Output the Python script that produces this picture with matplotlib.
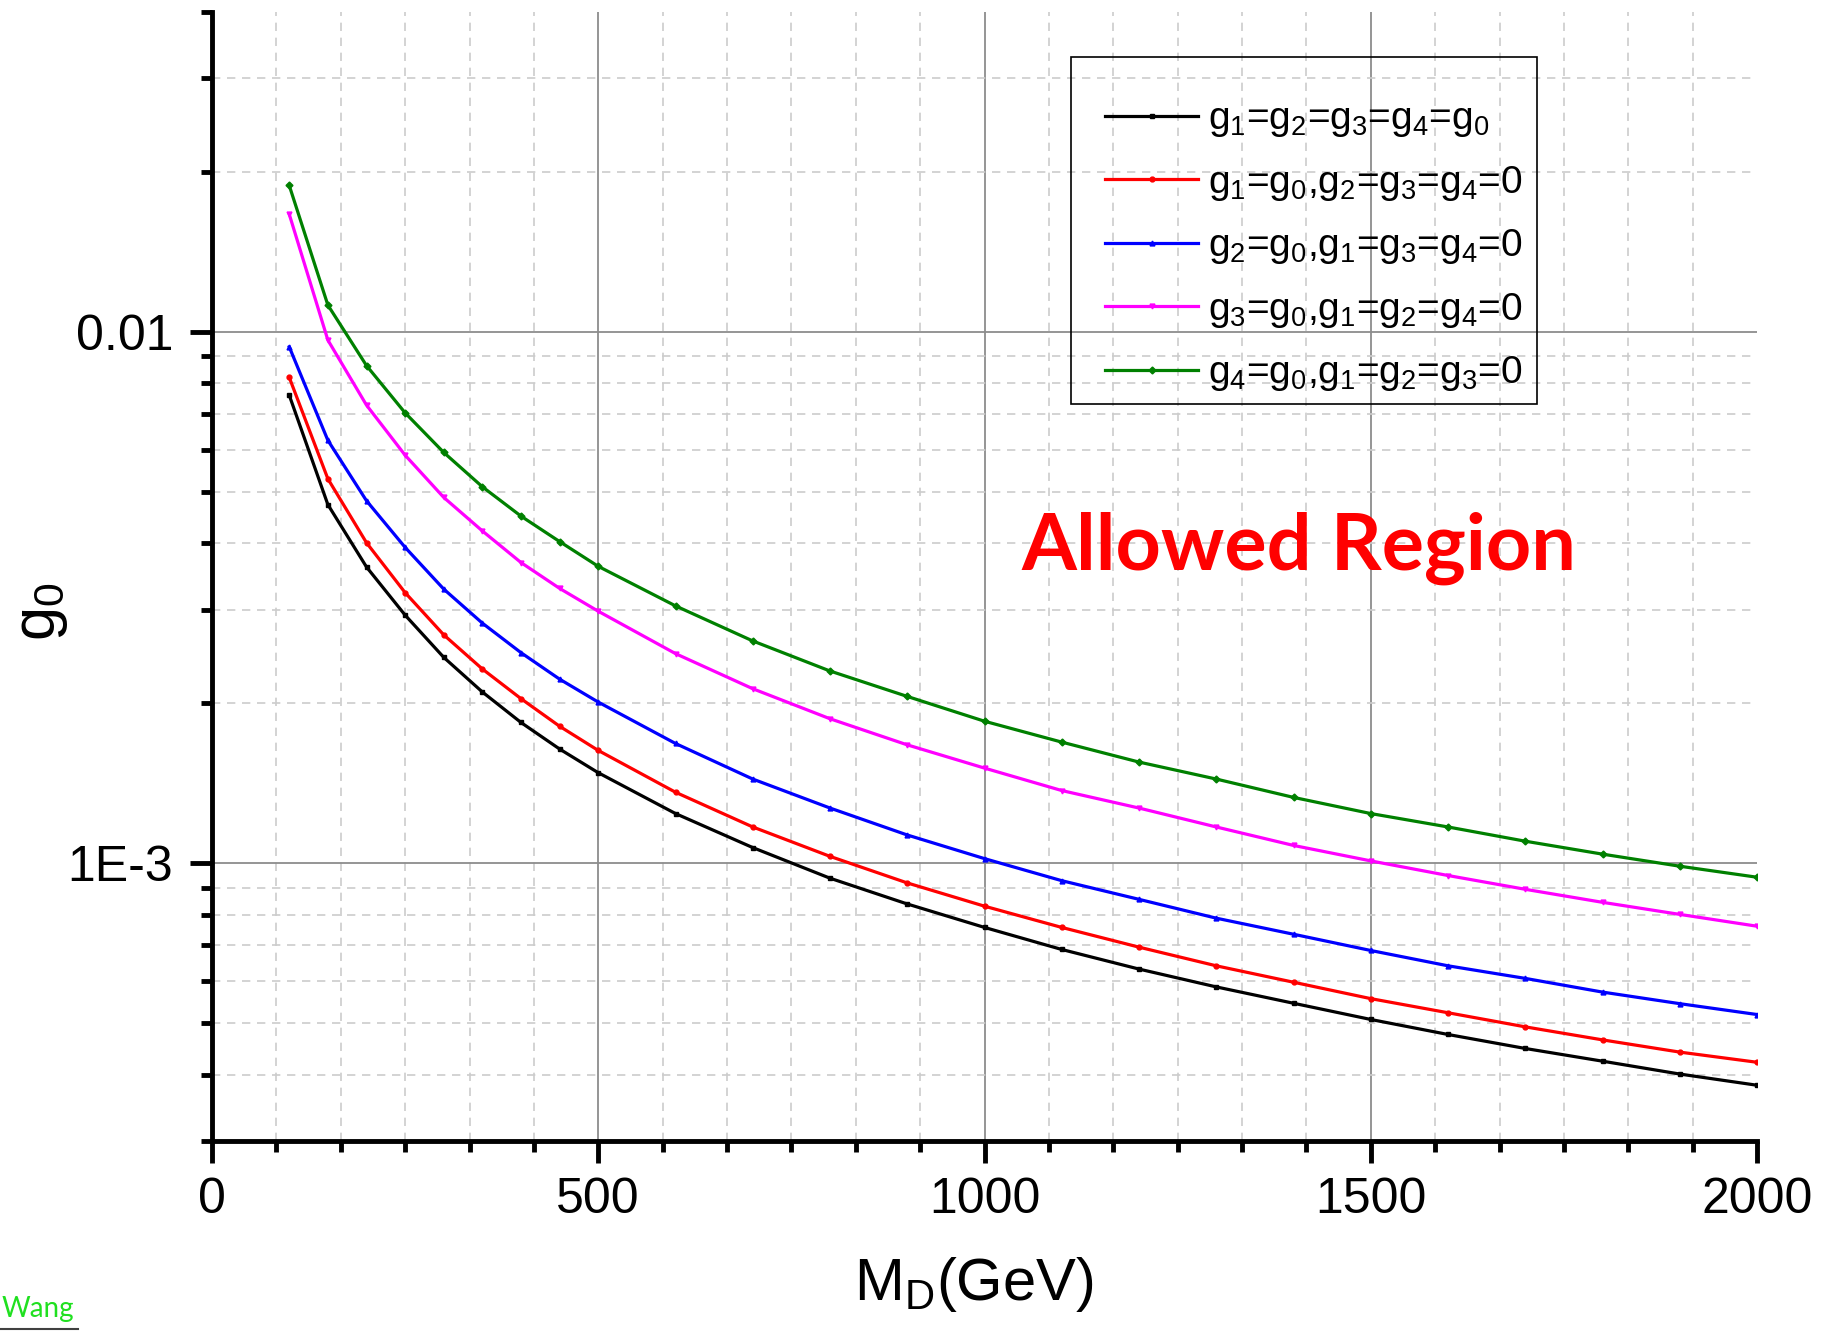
import matplotlib
matplotlib.use("Agg")
import matplotlib.pyplot as plt
from matplotlib.lines import Line2D
from matplotlib.patches import Rectangle

plt.rcParams['font.family'] = ['Liberation Sans', 'DejaVu Sans']
plt.rcParams['mathtext.default'] = 'regular'

# M_D values (GeV)
md = [100, 150, 200, 250, 300, 350, 400, 450, 500, 600, 700, 800, 900, 1000,
      1100, 1200, 1300, 1400, 1500, 1600, 1700, 1800, 1900, 2000]

# g0 limits for each coupling choice
g_all = [7.60e-3, 4.73e-3, 3.61e-3, 2.93e-3, 2.44e-3, 2.10e-3, 1.84e-3, 1.64e-3, 1.48e-3, 1.24e-3,
         1.07e-3, 9.37e-4, 8.38e-4, 7.57e-4, 6.88e-4, 6.32e-4, 5.85e-4, 5.45e-4, 5.08e-4, 4.76e-4,
         4.48e-4, 4.24e-4, 4.01e-4, 3.82e-4]
g_1 = [8.21e-3, 5.29e-3, 4.01e-3, 3.23e-3, 2.69e-3, 2.32e-3, 2.04e-3, 1.81e-3, 1.63e-3, 1.36e-3,
       1.17e-3, 1.03e-3, 9.18e-4, 8.30e-4, 7.57e-4, 6.95e-4, 6.41e-4, 5.97e-4, 5.56e-4, 5.23e-4,
       4.92e-4, 4.65e-4, 4.41e-4, 4.22e-4]
g_2 = [9.37e-3, 6.25e-3, 4.81e-3, 3.93e-3, 3.28e-3, 2.83e-3, 2.49e-3, 2.22e-3, 2.01e-3, 1.68e-3,
       1.44e-3, 1.27e-3, 1.13e-3, 1.02e-3, 9.27e-4, 8.55e-4, 7.88e-4, 7.35e-4, 6.85e-4, 6.41e-4,
       6.07e-4, 5.72e-4, 5.44e-4, 5.19e-4]
g_3 = [1.665e-2, 9.65e-3, 7.28e-3, 5.86e-3, 4.88e-3, 4.22e-3, 3.68e-3, 3.29e-3, 2.98e-3, 2.48e-3,
       2.13e-3, 1.87e-3, 1.67e-3, 1.51e-3, 1.37e-3, 1.27e-3, 1.17e-3, 1.08e-3, 1.01e-3, 9.48e-4,
       8.93e-4, 8.44e-4, 8.01e-4, 7.61e-4]
g_4 = [1.886e-2, 1.123e-2, 8.64e-3, 7.04e-3, 5.93e-3, 5.11e-3, 4.50e-3, 4.03e-3, 3.62e-3, 3.05e-3,
       2.62e-3, 2.30e-3, 2.06e-3, 1.85e-3, 1.69e-3, 1.55e-3, 1.44e-3, 1.33e-3, 1.24e-3, 1.17e-3,
       1.10e-3, 1.04e-3, 9.87e-4, 9.41e-4]

labels = ['g$_1$=g$_2$=g$_3$=g$_4$=g$_0$',
          'g$_1$=g$_0$,g$_2$=g$_3$=g$_4$=0',
          'g$_2$=g$_0$,g$_1$=g$_3$=g$_4$=0',
          'g$_3$=g$_0$,g$_1$=g$_2$=g$_4$=0',
          'g$_4$=g$_0$,g$_1$=g$_2$=g$_3$=0']
colors = ['black', 'red', 'blue', 'magenta', 'green']
markers = ['s', 'o', '^', 'v', 'D']

y_major = [1e-3, 1e-2]
y_major_labels = ['1E-3', '0.01']
y_minor = [3e-4, 4e-4, 5e-4, 6e-4, 7e-4, 8e-4, 9e-4,
           2e-3, 3e-3, 4e-3, 5e-3, 6e-3, 7e-3, 8e-3, 9e-3,
           2e-2, 3e-2, 4e-2]
x_major = [0, 500, 1000, 1500, 2000]

W, H = 1827, 1331
fig = plt.figure(figsize=(W / 100, H / 100), dpi=100)
ax = fig.add_axes([212 / W, (H - 1141) / H, 1545 / W, 1129 / H])

for ys, c, m, lab in zip([g_all, g_1, g_2, g_3, g_4], colors, markers, labels):
    ax.plot(md, ys, color=c, lw=2.3, marker=m, ms=3.5, label=lab, zorder=3)

ax.set_yscale('log')
ax.set_xlim(0, 2000)
ax.set_ylim(3e-4, 0.04)

ax.set_xticks(x_major)
ax.set_xticks([i * 500 / 6 for i in range(25)], minor=True)
ax.set_yticks(y_major)
ax.set_yticklabels(y_major_labels)
ax.set_yticks(y_minor, minor=True)
ax.yaxis.set_minor_formatter(plt.NullFormatter())

ax.grid(which='major', color='#8c8c8c', lw=1.3, ls='-')
ax.grid(which='minor', color='#cccccc', lw=1.2, ls=(0, (5, 4)))
# no grid lines on the frame edges
ax.xaxis.get_major_ticks()[-1].gridline.set_visible(False)
ax.xaxis.get_major_ticks()[0].gridline.set_visible(False)
for t, v in zip(ax.yaxis.get_minor_ticks(), y_minor):
    if v in (3e-4, 4e-2):
        t.gridline.set_visible(False)
ax.set_axisbelow(True)

for s in ['top', 'right']:
    ax.spines[s].set_visible(False)
for s in ['left', 'bottom']:
    ax.spines[s].set_linewidth(3.5)

ax.tick_params(which='major', direction='out', length=16, width=3.5, labelsize=36)
ax.tick_params(which='minor', direction='out', length=8, width=3.5)
ax.tick_params(axis='x', which='major', pad=10)
ax.tick_params(axis='y', which='major', pad=12)

fig.text(974 / W, 1 - 1285 / H, 'M$_D$(GeV)', fontsize=43, ha='center', va='center')
fig.text(42 / W, 1 - 612 / H, 'g$_0$', fontsize=44, rotation=90, ha='center', va='center')

fig.text(1299 / W, 1 - 548 / H, 'Allowed Region', fontsize=57, color='red',
         fontweight='bold', family='Lato', ha='center', va='center')

fig.text(2 / W, 1 - 1317 / H, 'Wang', fontsize=20, color='#20e020', family='Lato',
         ha='left', va='baseline')
fig.add_artist(Line2D([0, 78 / W], [1 - 1329 / H, 1 - 1329 / H], color='#404040', lw=1.5))

# legend entries without frame; the (unfilled) box is drawn separately
leg = ax.legend(loc='upper left', bbox_to_anchor=(1064 / W, 1 - 60.5 / H),
                bbox_transform=fig.transFigure, fontsize=28, numpoints=1,
                handlelength=2.4, handletextpad=0.25, labelspacing=0.63,
                borderpad=1.05, borderaxespad=0, frameon=False)
ax.add_patch(Rectangle((1071 / W, 1 - 404 / H), (1537 - 1071) / W, (404 - 57) / H,
                       transform=fig.transFigure, fill=False,
                       edgecolor='black', lw=1.2, zorder=4, clip_on=False))

fig.savefig('out.png', dpi=100)
